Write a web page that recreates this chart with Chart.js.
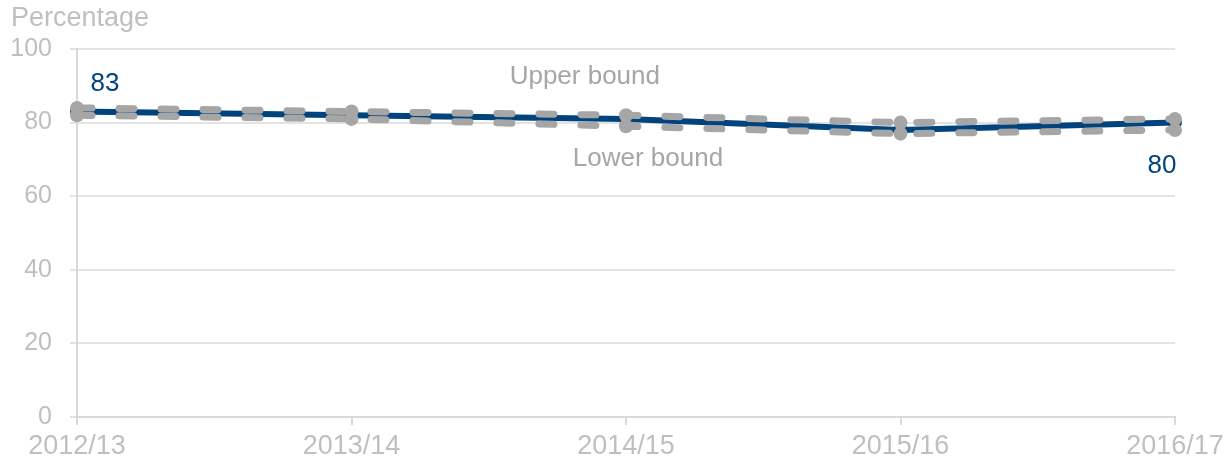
<!DOCTYPE html>
<html>
<head>
<meta charset="utf-8">
<script src="https://cdn.jsdelivr.net/npm/chart.js@4"></script>
<style>
  html, body { margin: 0; padding: 0; background: #ffffff; }
  #wrap { width: 1225px; height: 463px; position: relative; }
</style>
</head>
<body>
<div id="wrap"><canvas id="c"></canvas></div>
<script>
const categories = ['2012/13', '2013/14', '2014/15', '2015/16', '2016/17'];
const mainValues = [83, 82, 81, 78, 80];
const upperValues = [84, 83, 82, 80, 81];
const lowerValues = [82, 81, 79, 77, 78];
const yTicks = [0, 20, 40, 60, 80, 100];
const axisTitle = 'Percentage';
const upperLabel = 'Upper bound';
const lowerLabel = 'Lower bound';

const FONT = '"Liberation Sans", Arial, sans-serif';
const BLUE = '#00437D';
const GREY = '#A6A6A6';
const TICKGREY = '#BFBFBF';

const annotate = {
  id: 'annotate',
  afterDatasetsDraw(chart) {
    const ctx = chart.ctx;
    const xs = chart.scales.x, ys = chart.scales.y;
    ctx.save();
    ctx.textBaseline = 'middle';
    // axis title
    ctx.font = '27px ' + FONT;
    ctx.fillStyle = TICKGREY;
    ctx.textAlign = 'left';
    ctx.fillText(axisTitle, 11, 19);
    // bound labels
    ctx.font = '26px ' + FONT;
    ctx.fillStyle = GREY;
    ctx.textAlign = 'center';
    ctx.fillText(upperLabel, xs.getPixelForValue(1.85), ys.getPixelForValue(92.4));
    ctx.fillText(lowerLabel, xs.getPixelForValue(2.08), ys.getPixelForValue(70.1));
    // data labels
    ctx.fillStyle = BLUE;
    const first = 0, last = mainValues.length - 1;
    ctx.fillText(String(mainValues[first]), xs.getPixelForValue(first) + 28, ys.getPixelForValue(mainValues[first]) - 28);
    ctx.fillText(String(mainValues[last]), xs.getPixelForValue(last) - 13, ys.getPixelForValue(mainValues[last]) + 43);
    ctx.restore();
  }
};

const boundStyle = {
  borderColor: GREY,
  backgroundColor: GREY,
  borderWidth: 7,
  borderDash: [15, 27],
  borderCapStyle: 'round',
  pointRadius: 7,
  pointBorderWidth: 0,
  pointBackgroundColor: GREY,
  tension: 0
};

new Chart(document.getElementById('c'), {
  type: 'line',
  data: {
    labels: categories,
    datasets: [
      Object.assign({ label: upperLabel, data: upperValues }, boundStyle),
      Object.assign({ label: lowerLabel, data: lowerValues }, boundStyle),
      {
        label: 'Estimate',
        data: mainValues,
        borderColor: BLUE,
        backgroundColor: BLUE,
        borderWidth: 6,
        pointRadius: 7,
        pointBorderWidth: 0,
        pointBackgroundColor: BLUE,
        tension: 0
      }
    ]
  },
  options: {
    responsive: true,
    maintainAspectRatio: false,
    animation: false,
    layout: { padding: { top: 49, right: 50, left: 0, bottom: 0 } },
    plugins: {
      legend: { display: false },
      tooltip: { enabled: false }
    },
    scales: {
      x: {
        type: 'category',
        offset: false,
        grid: {
          display: true,
          drawOnChartArea: false,
          drawTicks: true,
          tickLength: 8,
          color: '#D9D9D9',
          lineWidth: 2
        },
        border: { display: true, color: '#D9D9D9', width: 2 },
        ticks: {
          color: TICKGREY,
          font: { family: FONT, size: 27 },
          padding: 5,
          maxRotation: 0,
          autoSkip: false
        },
        afterFit(scale) {
          scale.height = 46;
          scale.paddingLeft = 0;
          scale.paddingRight = 0;
        }
      },
      y: {
        min: 0,
        max: 100,
        afterBuildTicks(scale) { scale.ticks = yTicks.map(v => ({ value: v })); },
        grid: {
          color: '#E3E3E3',
          lineWidth: 2,
          drawTicks: true,
          tickLength: 7
        },
        border: { display: true, color: '#D9D9D9', width: 2 },
        ticks: {
          color: TICKGREY,
          font: { family: FONT, size: 25 },
          padding: 18
        },
        afterFit(scale) {
          scale.width = 77;
          scale.paddingTop = 0;
          scale.paddingBottom = 0;
        }
      }
    }
  },
  plugins: [annotate]
});
</script>
</body>
</html>
